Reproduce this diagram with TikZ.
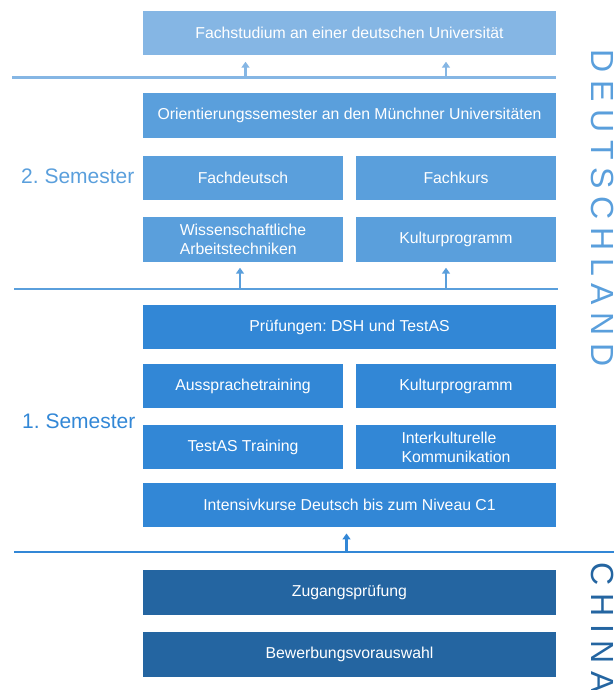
\documentclass[tikz,border=0pt]{standalone}
\usepackage{fontspec}
\setmainfont{Liberation Sans}
\frenchspacing
\usetikzlibrary{arrows.meta}
\definecolor{cA}{HTML}{85B6E4}
\definecolor{cB}{HTML}{5A9FDC}
\definecolor{cC}{HTML}{3287D6}
\definecolor{cD}{HTML}{2465A1}
\tikzset{
  box/.style={rectangle, draw=none, inner sep=0pt, text=white, align=left,
    font=\fontsize{15.8}{19.4}\selectfont},
  widebox/.style={box, minimum width=413pt, minimum height=44.5pt},
  halfbox/.style={box, minimum width=200pt, minimum height=44.5pt},
  sepline/.style={line width=2.4pt},
  uparr/.style={line width=2.3pt, -{Triangle[width=8pt,length=6pt]}, shorten >=6pt},
  semlabel/.style={font=\fontsize{21}{25}\selectfont, inner sep=0pt},
  country/.style={rotate=-90, anchor=base west, inner sep=0pt,
    font=\fontsize{32}{36}\selectfont\addfontfeatures{LetterSpace=24}}
}
\begin{document}
\begin{tikzpicture}[x=1pt,y=-1pt]
\useasboundingbox (0,0) rectangle (614,690);

% Deutschland upper block
\node[widebox, fill=cA] (fach) at (349.5,33.25) {Fachstudium an einer deutschen Universität};
\coordinate (l1a) at (12,77.5);
\coordinate (l1b) at (556,77.5);
\draw[sepline, cA] (l1a) -- (l1b);
\coordinate (a1) at (245.5,77.5);
\coordinate (a2) at (446,77.5);
\draw[uparr, cA] (a1) -- (a1 |- fach.south);
\draw[uparr, cA] (a2) -- (a2 |- fach.south);

% 2. Semester
\node[widebox, fill=cB] (orient) at (349.5,115.75) {Orientierungssemester an den Münchner Universitäten};
\node[halfbox, fill=cB] (fachdeutsch) at (243,178) {Fachdeutsch};
\node[halfbox, fill=cB] (fachkurs) at (456,178) {Fachkurs};
\node[halfbox, fill=cB] (wiss) at (243,239.25) {Wissenschaftliche\\Arbeitstechniken};
\node[halfbox, fill=cB] (kultur1) at (456,239.25) {Kulturprogramm};
\node[semlabel, text=cB, anchor=base west] (sem2) at (21,183) {2. Semester};
\coordinate (l2a) at (14,289);
\coordinate (l2b) at (558,289);
\draw[sepline, cB] (l2a) -- (l2b);
\coordinate (b1) at (240,289);
\coordinate (b2) at (446,289);
\draw[uparr, cB] (b1) -- (b1 |- wiss.south);
\draw[uparr, cB] (b2) -- (b2 |- kultur1.south);

% 1. Semester
\node[widebox, fill=cC] (pruef) at (349.5,327.15) {Prüfungen: DSH und TestAS};
\node[halfbox, fill=cC] (aussprache) at (243,386.15) {Aussprachetraining};
\node[halfbox, fill=cC] (kultur2) at (456,386.15) {Kulturprogramm};
\node[halfbox, fill=cC] (testas) at (243,447.15) {TestAS Training};
\node[halfbox, fill=cC] (interk) at (456,447.15) {Interkulturelle\\Kommunikation};
\node[widebox, fill=cC] (intensiv) at (349.5,505) {Intensivkurse Deutsch bis zum Niveau C1};
\node[semlabel, text=cC, anchor=base west] (sem1) at (22,428) {1. Semester};
\coordinate (l3a) at (14,552);
\coordinate (l3b) at (614,552);
\draw[sepline, cC] (l3a) -- (l3b);
\coordinate (c1) at (346.5,552);
\draw[uparr, cC] (c1) -- (c1 |- intensiv.south);

% China
\node[widebox, fill=cD] (zugang) at (349.5,592.25) {Zugangsprüfung};
\node[widebox, fill=cD] (bewerb) at (349.5,654.25) {Bewerbungsvorauswahl};

% Country labels
\node[country, text=cB] (de) at (591,49.5) {DEUTSCHLAND};
\node[country, text=cD] (cn) at (591,562.5) {CHINA};
\end{tikzpicture}
\end{document}
